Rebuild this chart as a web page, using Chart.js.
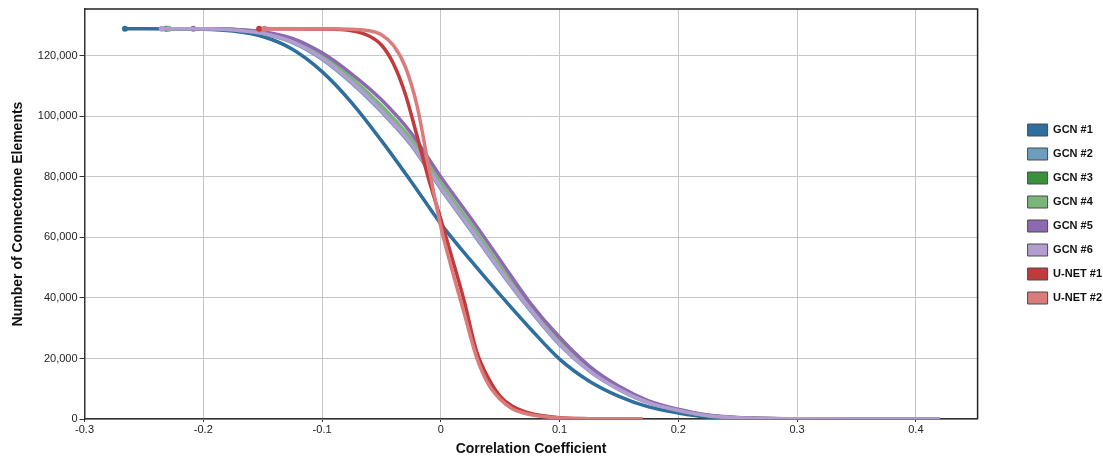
<!DOCTYPE html>
<html>
<head>
<meta charset="utf-8">
<title>Connectome elements vs correlation coefficient</title>
<script src="https://cdn.jsdelivr.net/npm/chart.js@4.4.1/dist/chart.umd.min.js"></script>
<style>
  html, body { margin: 0; padding: 0; background: #fff; }
  #wrap { position: relative; width: 1103px; height: 460px; }
</style>
</head>
<body>
<div id="wrap"><canvas id="chart"></canvas></div>
<script>
// --- 1. Data ---
const seriesNames = ['GCN #1', 'GCN #2', 'GCN #3', 'GCN #4', 'GCN #5', 'GCN #6', 'U-NET #1', 'U-NET #2'];
const seriesColors = ['#2e6f9d', '#6d9dbf', '#3a903b', '#78b67a', '#8d6ab0', '#b39cd0', '#c13b3d', '#da7c7c'];

const plateau = 129000;

// GCN curves: first point (with dot) then a shared x grid
const gcnStartX = [-0.266, -0.232, -0.2305, -0.229, -0.2085, -0.235];
const gcnGrid = [-0.2, -0.175, -0.15, -0.125, -0.1, -0.075, -0.05, -0.025, 0, 0.025, 0.05, 0.075, 0.1, 0.125, 0.15, 0.175, 0.2, 0.225, 0.25, 0.3, 0.35, 0.42];
const gcn1 = [128800, 128200, 126400, 122200, 114800, 104500, 92000, 78500, 64500, 52500, 41000, 30000, 19800, 12500, 7500, 4000, 2000, 650, 250, 30, 5, 0];
const gcn2 = [129000, 128600, 127400, 124400, 118900, 111000, 101500, 90500, 76000, 62500, 48800, 36000, 24500, 15800, 9700, 5300, 2800, 1100, 400, 60, 8, 0];
const gcn3 = [129000, 128700, 127700, 125000, 119800, 112200, 103000, 92000, 77500, 64000, 50000, 37000, 25200, 16300, 10000, 5500, 2900, 1150, 430, 70, 8, 0];
const gcn4 = [129000, 128700, 127800, 125200, 120100, 112600, 103500, 92500, 78000, 64500, 50500, 37400, 25600, 16600, 10200, 5600, 3000, 1200, 450, 70, 8, 0];
const gcn5 = [129000, 128800, 128000, 125800, 121000, 114000, 105500, 94500, 80000, 66500, 52500, 38500, 27000, 17500, 10800, 6000, 3200, 1300, 500, 80, 10, 0];
const gcn6 = [129000, 128600, 127500, 124600, 119200, 111400, 102000, 91000, 76500, 63000, 49200, 36400, 24800, 16000, 9800, 5400, 2850, 1100, 420, 65, 8, 0];

// U-NET curves
const unetStartX = [-0.153, -0.1485];
const unetGrid = [-0.1, -0.075, -0.06, -0.05, -0.04, -0.03, -0.02, -0.01, 0, 0.01, 0.02, 0.03, 0.04, 0.05, 0.06, 0.075, 0.1, 0.125, 0.15, 0.17];
const unet1 = [128900, 128300, 126500, 123600, 117500, 107500, 93500, 79000, 66000, 52500, 38500, 22500, 13500, 7500, 4300, 1900, 450, 100, 20, 0];
const unet2 = [129000, 128800, 128300, 127000, 123500, 116500, 103500, 83000, 63500, 48500, 34500, 20500, 11500, 6500, 3400, 1500, 350, 80, 15, 0];

// Axis ticks
const xTickValues = [-0.3, -0.2, -0.1, 0, 0.1, 0.2, 0.3, 0.4];
const xTickLabels = ['-0.3', '-0.2', '-0.1', '0', '0.1', '0.2', '0.3', '0.4'];
const yTickValues = [0, 20000, 40000, 60000, 80000, 100000, 120000];
const yTickLabels = ['0', '20,000', '40,000', '60,000', '80,000', '100,000', '120,000'];

// --- 2. Build datasets ---
function buildPoints(startX, grid, ys) {
    const pts = [{ x: startX, y: plateau }];
    grid.forEach((x, j) => pts.push({ x: x, y: ys[j] }));
    return pts;
}

const seriesPoints = [
    buildPoints(gcnStartX[0], gcnGrid, gcn1),
    buildPoints(gcnStartX[1], gcnGrid, gcn2),
    buildPoints(gcnStartX[2], gcnGrid, gcn3),
    buildPoints(gcnStartX[3], gcnGrid, gcn4),
    buildPoints(gcnStartX[4], gcnGrid, gcn5),
    buildPoints(gcnStartX[5], gcnGrid, gcn6),
    buildPoints(unetStartX[0], unetGrid, unet1),
    buildPoints(unetStartX[1], unetGrid, unet2),
];

const datasets = seriesNames.map((name, i) => ({
    label: name,
    data: seriesPoints[i],
    borderColor: seriesColors[i],
    backgroundColor: seriesColors[i],
    pointBackgroundColor: seriesColors[i],
    borderWidth: 3.5,
    cubicInterpolationMode: 'monotone',
    pointRadius: (ctx) => ctx.dataIndex === 0 ? 3 : 0,
    pointBorderWidth: 0,
    pointHoverRadius: 0,
    fill: false,
    order: seriesNames.length - i, // later series drawn on top
}));

// --- 3. Plot frame (top / right edges) ---
const framePlugin = {
    id: 'frame',
    afterDraw(chart) {
        const { ctx, chartArea: a } = chart;
        ctx.save();
        ctx.strokeStyle = '#222';
        ctx.lineWidth = 1.5;
        ctx.beginPath();
        ctx.moveTo(a.left, a.top);
        ctx.lineTo(a.right, a.top);
        ctx.lineTo(a.right, a.bottom);
        ctx.stroke();
        ctx.restore();
    }
};

Chart.defaults.font.family = "'Liberation Sans', Arial, sans-serif";
Chart.defaults.color = '#222';

new Chart(document.getElementById('chart'), {
    type: 'line',
    data: { datasets: datasets },
    options: {
        responsive: true,
        maintainAspectRatio: false,
        animation: false,
        layout: { padding: { top: 9, right: -9, bottom: 2, left: 6 } },
        plugins: {
            tooltip: { enabled: false },
            legend: {
                position: 'right',
                fullSize: false,
                labels: {
                    boxWidth: 20,
                    boxHeight: 12,
                    padding: 12,
                    color: '#111',
                    font: { size: 11, weight: 'bold' },
                    generateLabels: (chart) => chart.data.datasets.map((ds, i) => ({
                        text: ds.label,
                        fillStyle: seriesColors[i],
                        strokeStyle: '#4a4a4a',
                        lineWidth: 1,
                        fontColor: '#111',
                        hidden: false,
                        datasetIndex: i,
                    })),
                },
            },
        },
        scales: {
            x: {
                type: 'linear',
                min: -0.3,
                max: 0.452,
                afterBuildTicks: (axis) => { axis.ticks = xTickValues.map(v => ({ value: v })); },
                ticks: { callback: (v, i) => xTickLabels[i], font: { size: 11 }, padding: 1, maxRotation: 0, autoSkip: false },
                grid: { color: '#c6c6c6', lineWidth: 1, tickLength: 3, tickColor: '#333' },
                border: { color: '#333', width: 1.5 },
                title: { display: true, text: 'Correlation Coefficient', color: '#111', font: { size: 14, weight: 'bold' }, padding: { top: 4, bottom: 0 } },
            },
            y: {
                type: 'linear',
                min: 0,
                max: 135500,
                afterBuildTicks: (axis) => { axis.ticks = yTickValues.map(v => ({ value: v })); },
                ticks: { callback: (v, i) => yTickLabels[i], font: { size: 11 }, padding: 2, autoSkip: false },
                grid: { color: '#c6c6c6', lineWidth: 1, tickLength: 5, tickColor: '#333' },
                border: { color: '#333', width: 1.5 },
                title: { display: true, text: 'Number of Connectome Elements', color: '#111', font: { size: 14, weight: 'bold' }, padding: { top: 4, bottom: 9 } },
            },
            spacer: {
                type: 'linear',
                axis: 'y',
                position: 'right',
                display: true,
                grid: { display: false, drawTicks: false },
                ticks: { display: false },
                border: { display: false },
                afterFit: (s) => { s.width = 38; },
            },
        },
    },
    plugins: [framePlugin],
});
</script>
</body>
</html>
